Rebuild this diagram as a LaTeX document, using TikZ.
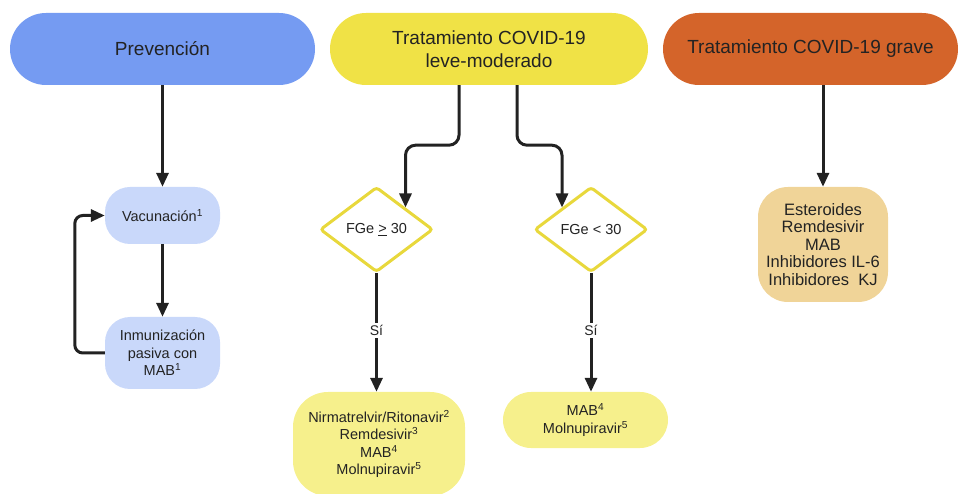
\documentclass[tikz,border=0pt]{standalone}
\usepackage{fontspec}
\setmainfont{Liberation Sans}
\usetikzlibrary{shapes.geometric,arrows.meta,calc}
\definecolor{prevblue}{RGB}{117,155,242}
\definecolor{lightblue}{RGB}{201,216,250}
\definecolor{yellowH}{RGB}{240,226,70}
\definecolor{lightyellow}{RGB}{246,240,140}
\definecolor{dborder}{RGB}{232,216,60}
\definecolor{orangeH}{RGB}{212,100,42}
\definecolor{tanbox}{RGB}{240,212,152}
\definecolor{txt}{RGB}{35,35,35}
\definecolor{arrc}{RGB}{34,34,34}
\tikzset{
  header/.style={rectangle, rounded corners=36pt, minimum height=72pt, inner sep=0pt, text=txt, align=center,
    font=\fontsize{19pt}{23pt}\selectfont},
  smallbox/.style={rectangle, inner sep=0pt, text=txt, align=center,
    font=\fontsize{14.5pt}{17.5pt}\selectfont},
  decision/.style={diamond, draw=dborder, line width=3pt, fill=white, inner sep=0pt, aspect=1.33,
    minimum width=113pt, minimum height=85pt, rounded corners=3pt, text=txt,
    font=\fontsize{14.5pt}{17.5pt}\selectfont},
  arr/.style={draw=arrc, line width=3pt, -{Triangle[length=14pt,width=12pt]}},
  lbl/.style={fill=white, text=txt, inner sep=2pt, font=\fontsize{14pt}{17pt}\selectfont}
}
\begin{document}
\begin{tikzpicture}[x=1pt,y=-1pt]
\useasboundingbox (0,0) rectangle (959,494);
\begin{scope}
\clip (0,0) rectangle (959,494);
% headers
\node[header, fill=prevblue, minimum width=305pt] (prev) at (162.5,49) {Prevención};
\node[header, fill=yellowH, minimum width=318pt] (leve) at (489,49) {Tratamiento COVID-19\\leve-moderado};
\node[header, fill=orangeH, minimum width=295pt] (grave) at (810.5,49) {Tratamiento COVID-19 grave};
% prevention column
\node[smallbox, fill=lightblue, rounded corners=25pt, minimum width=115pt, minimum height=57pt] (vac) at (162.5,215.5) {Vacunación\textsuperscript{1}};
\node[smallbox, fill=lightblue, rounded corners=25pt, minimum width=115pt, minimum height=72pt] (inm) at (162.5,353) {Inmunización\\pasiva con\\MAB\textsuperscript{1}};
% decisions
\node[decision] (d1) at (376.5,229.5) {FGe \underline{>} 30};
\node[decision] (d2) at (591,229.5) {FGe < 30};
% bottom boxes
\node[smallbox, fill=lightyellow, rounded corners=35pt, minimum width=172pt, minimum height=104pt] (b1) at (379,444) {Nirmatrelvir/Ritonavir\textsuperscript{2}\\Remdesivir\textsuperscript{3}\\MAB\textsuperscript{4}\\Molnupiravir\textsuperscript{5}};
\node[smallbox, fill=lightyellow, rounded corners=28pt, minimum width=165pt, minimum height=56pt] (b2) at (585.5,420) {MAB\textsuperscript{4}\\Molnupiravir\textsuperscript{5}};
% severe box
\node[smallbox, fill=tanbox, rounded corners=30pt, minimum width=130pt, minimum height=115pt,
  font=\fontsize{16.5pt}{17.6pt}\selectfont] (g) at (823,244.5) {Esteroides\\Remdesivir\\MAB\\Inhibidores IL-6\\Inhibidores\ \ KJ};
% connectors
\draw[arr] (prev) -- (vac);
\draw[arr] (vac) -- (inm);
\draw[arr, rounded corners=8pt] (inm.west) -- ++(-30,0) |- (vac.west);
\draw[arr, rounded corners=10pt] ([xshift=-30pt]leve.south) -- ++(0,60) -| (d1.north east);
\draw[arr, rounded corners=10pt] ([xshift=28pt]leve.south) -- ++(0,60) -| (d2.north west);
\draw[arr] (d1.south) -- (d1.south |- b1.north) node[lbl, pos=0.48] (s1) {Sí};
\draw[arr] (d2.south) -- (d2.south |- b2.north) node[lbl, pos=0.48] (s2) {Sí};
\draw[arr] (g.north |- grave.south) -- (g.north);
\end{scope}
\end{tikzpicture}
\end{document}
